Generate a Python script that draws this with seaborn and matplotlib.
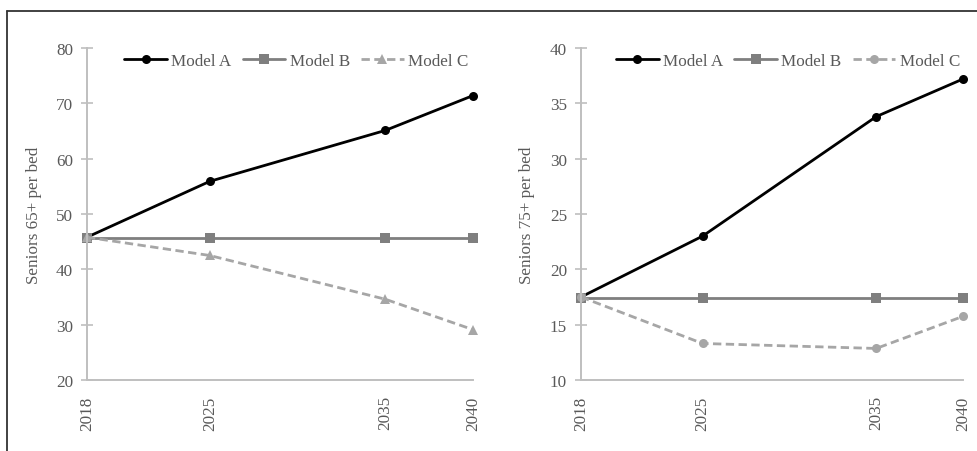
import matplotlib
matplotlib.use("Agg")
import matplotlib.pyplot as plt
from matplotlib.lines import Line2D
import pandas as pd
import seaborn as sns

# Projection years and scenario values
years = [2018, 2025, 2035, 2040]
models = ["Model A", "Model B", "Model C"]

seniors65_a = [45.8, 55.9, 65.1, 71.4]
seniors65_b = [45.7, 45.7, 45.7, 45.7]
seniors65_c = [45.8, 42.5, 34.6, 29.1]

seniors75_a = [17.5, 23.0, 33.8, 37.2]
seniors75_b = [17.45, 17.45, 17.45, 17.45]
seniors75_c = [17.5, 13.3, 12.85, 15.75]

y65_ticks = [20, 30, 40, 50, 60, 70, 80]
y75_ticks = [10, 15, 20, 25, 30, 35, 40]


def long_frame(a, b, c):
    rows = []
    for name, vals in zip(models, (a, b, c)):
        for yr, v in zip(years, vals):
            rows.append({"year": yr, "value": v, "model": name})
    return pd.DataFrame(rows)


df65 = long_frame(seniors65_a, seniors65_b, seniors65_c)
df75 = long_frame(seniors75_a, seniors75_b, seniors75_c)

sns.set_theme(style="white")
plt.rcParams["font.family"] = ["Liberation Serif", "DejaVu Serif"]

palette = {"Model A": "#000000", "Model B": "#7f7f7f", "Model C": "#a6a6a6"}
dashes = {"Model A": "", "Model B": "", "Model C": (3.0, 1.6)}
axis_grey = "#bfbfbf"
text_grey = "#595959"

fig = plt.figure(figsize=(9.77, 4.52), dpi=100)
ax1 = fig.add_axes([0.0890, 0.1571, 0.3951, 0.7345])
ax2 = fig.add_axes([0.5947, 0.1571, 0.3910, 0.7345])

panels = [
    (ax1, df65, "Seniors 65+ per bed", y65_ticks, "^", 1.028, 10),
    (ax2, df75, "Seniors 75+ per bed", y75_ticks, "o", 1.032, 11),
]

for ax, df, ylabel, yticks, c_marker, legend_x, ypad in panels:
    markers = {"Model A": "o", "Model B": "s", "Model C": c_marker}
    sns.lineplot(
        data=df, x="year", y="value", hue="model", style="model",
        palette=palette, markers=markers, dashes=dashes,
        linewidth=2.0, markersize=6.5, markeredgewidth=0,
        ax=ax, legend=True,
    )
    ax.set_xlim(years[0], years[-1])
    ax.set_ylim(yticks[0], yticks[-1])
    ax.set_xticks(years)
    ax.set_xticklabels([str(y) for y in years], rotation=90)
    ax.set_yticks(yticks)
    ax.set_xlabel("")
    ax.set_ylabel(ylabel, fontsize=12.3, color=text_grey, labelpad=ypad)
    for side in ("top", "right"):
        ax.spines[side].set_visible(False)
    for side in ("left", "bottom"):
        ax.spines[side].set_color(axis_grey)
        ax.spines[side].set_linewidth(1.4)
    ax.tick_params(axis="y", direction="inout", length=8, width=1.2,
                   color=axis_grey, labelsize=12.3, labelcolor=text_grey, pad=6,
                   left=True)
    ax.tick_params(axis="x", length=0, labelsize=12.3, labelcolor=text_grey, pad=11)
    for line in ax.get_lines():
        line.set_clip_on(False)

    handles, labels = ax.get_legend_handles_labels()
    ax.legend(handles, labels, loc="upper right", bbox_to_anchor=(legend_x, 1.03),
              ncol=3, frameon=False, fontsize=12.3, handlelength=2.5,
              handletextpad=0.25, columnspacing=0.65, labelcolor=text_grey)

# Frame along the top and left edges of the figure
fig.add_artist(Line2D([7 / 977, 1.0], [1 - 12 / 452, 1 - 12 / 452],
                      transform=fig.transFigure, color="#333333", linewidth=1.3))
fig.add_artist(Line2D([7 / 977, 7 / 977], [0.0, 1 - 12 / 452],
                      transform=fig.transFigure, color="#333333", linewidth=1.3))

fig.savefig("out.png", dpi=100)
